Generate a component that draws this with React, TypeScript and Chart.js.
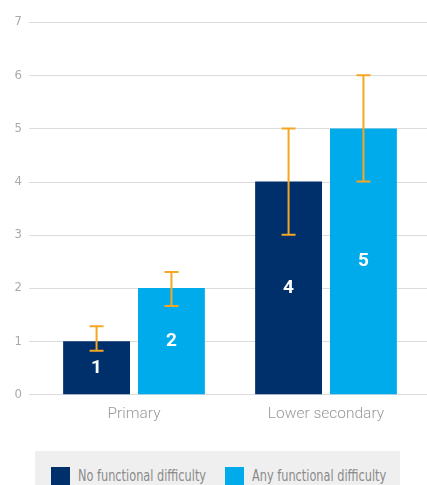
import React, { useEffect, useRef } from "react";
import { Chart, registerables } from "chart.js";

Chart.register(...registerables);

const categories = ["Primary", "Lower secondary"];
const seriesNames = ["No functional difficulty", "Any functional difficulty"];
const noDifficulty = [1, 4];
const anyDifficulty = [2, 5];
const noDiffLow = [0.82, 3.0];
const noDiffHigh = [1.28, 5.0];
const anyDiffLow = [1.66, 4.0];
const anyDiffHigh = [2.3, 6.0];
const yTicks = [0, 1, 2, 3, 4, 5, 6, 7];

const DARK = "#00306b";
const LIGHT = "#00abeb";
const ORANGE = "#f5a623";
const COND = '"Liberation Sans Narrow", "DejaVu Sans Condensed", "Roboto", sans-serif';

const errLow = [noDiffLow, anyDiffLow];
const errHigh = [noDiffHigh, anyDiffHigh];

const gridPlugin = {
  id: "fullGrid",
  beforeDatasetsDraw(chart: any) {
    const { ctx, scales, chartArea } = chart;
    const y = scales.y;
    ctx.save();
    ctx.strokeStyle = "#dcdcdc";
    ctx.lineWidth = 1;
    yTicks.forEach((v) => {
      const py = Math.round(y.getPixelForValue(v)) + 0.5;
      ctx.beginPath();
      ctx.moveTo(chartArea.left - 9, py);
      ctx.lineTo(chart.width, py);
      ctx.stroke();
    });
    ctx.restore();
  },
};

const overlayPlugin = {
  id: "overlay",
  afterDatasetsDraw(chart: any) {
    const { ctx, scales } = chart;
    const y = scales.y;
    ctx.save();
    chart.data.datasets.forEach((ds: any, di: number) => {
      const meta = chart.getDatasetMeta(di);
      meta.data.forEach((bar: any, i: number) => {
        ctx.fillStyle = "#ffffff";
        ctx.font = "bold 19px Roboto, sans-serif";
        ctx.textAlign = "center";
        ctx.textBaseline = "middle";
        ctx.fillText(String(ds.data[i]), bar.x, (bar.y + bar.base) / 2);
        const top = y.getPixelForValue(errHigh[di][i]);
        const bot = y.getPixelForValue(errLow[di][i]);
        ctx.strokeStyle = ORANGE;
        ctx.lineWidth = 2;
        ctx.beginPath();
        ctx.moveTo(bar.x, top);
        ctx.lineTo(bar.x, bot);
        ctx.moveTo(bar.x - 7, top);
        ctx.lineTo(bar.x + 7, top);
        ctx.moveTo(bar.x - 7, bot);
        ctx.lineTo(bar.x + 7, bot);
        ctx.stroke();
      });
    });
    ctx.restore();
  },
};

export default function App() {
  const ref = useRef<HTMLCanvasElement>(null);
  useEffect(() => {
    document.body.style.margin = "0";
    const chart = new Chart(ref.current!, {
      type: "bar",
      data: {
        labels: categories,
        datasets: [
          { label: seriesNames[0], data: noDifficulty, backgroundColor: DARK },
          { label: seriesNames[1], data: anyDifficulty, backgroundColor: LIGHT },
        ],
      },
      options: {
        responsive: false,
        animation: false,
        layout: { padding: { left: 14, right: 5, top: 22, bottom: 0 } },
        datasets: {
          bar: { categoryPercentage: 0.78, barPercentage: 0.893 },
        } as any,
        plugins: { legend: { display: false }, tooltip: { enabled: false } },
        scales: {
          x: {
            grid: { display: false },
            border: { display: false },
            ticks: {
              color: "#999999",
              font: { family: "Roboto", size: 15.5, weight: 300 as any },
              padding: 2,
            },
          },
          y: {
            min: 0,
            max: 7,
            afterBuildTicks: (s: any) => {
              s.ticks = yTicks.map((v) => ({ value: v }));
            },
            afterFit: (s: any) => {
              s.width = 24;
            },
            grid: { display: false, drawTicks: true, tickLength: 9 },
            border: { display: false },
            ticks: {
              color: "#aaaaaa",
              font: { family: COND, size: 13 },
              padding: 7,
            },
          },
        },
      },
      plugins: [gridPlugin, overlayPlugin],
    });
    return () => chart.destroy();
  }, []);

  const item = (left: number, color: string, text: string) => (
    <div style={{ position: "absolute", left, top: 16, display: "flex", alignItems: "center", whiteSpace: "nowrap" }}>
      <div style={{ width: 19, height: 19, background: color, marginRight: 8, flex: "none" }} />
      <span
        style={{
          fontFamily: COND,
          fontSize: 15,
          color: "#8a8a8a",
          lineHeight: "19px",
          display: "inline-block",
          transform: "scaleX(0.84)",
          transformOrigin: "left center",
        }}
      >
        {text}
      </span>
    </div>
  );

  return (
    <div style={{ position: "relative", width: 427, height: 485, overflow: "hidden" }}>
      <canvas ref={ref} width={427} height={425} style={{ position: "absolute", left: 0, top: 0 }} />
      <div
        style={{
          position: "absolute",
          left: 35,
          top: 451,
          width: 365,
          height: 34,
          background: "#efefef",
        }}
      >
        {item(16, DARK, seriesNames[0])}
        {item(190, LIGHT, seriesNames[1])}
      </div>
    </div>
  );
}
